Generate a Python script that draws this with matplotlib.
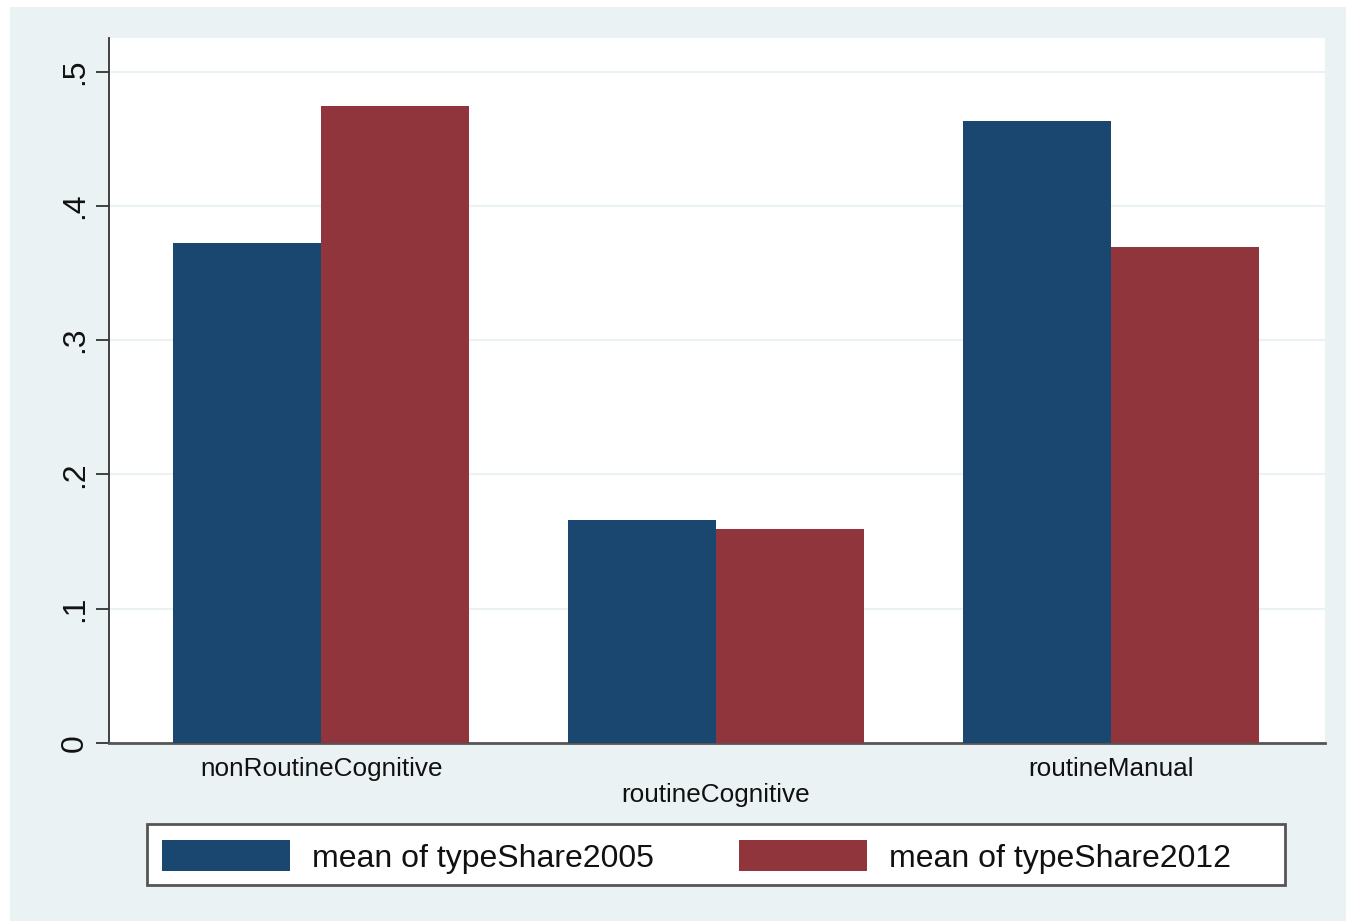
import matplotlib
matplotlib.use("Agg")
import matplotlib.pyplot as plt
from matplotlib.patches import Rectangle, Patch
import numpy as np

categories = ["nonRoutineCognitive", "routineCognitive", "routineManual"]
share2005 = [0.372, 0.166, 0.463]
share2012 = [0.474, 0.159, 0.369]
series_labels = ["mean of typeShare2005", "mean of typeShare2012"]
yticks = [0, 0.1, 0.2, 0.3, 0.4, 0.5]
yticklabels = ["0", ".1", ".2", ".3", ".4", ".5"]

BLUE = "#1a476f"
RED = "#90353b"
BG = "#eaf2f3"
GRID = "#eaf2f3"

plt.rcParams["font.family"] = ["Liberation Sans", "DejaVu Sans"]

W, H = 1346, 923
fig = plt.figure(figsize=(W / 100, H / 100), dpi=100, facecolor="white")
fig.patches.append(Rectangle((10 / W, 2 / H), 1 - 10 / W, 1 - 9 / H,
                             transform=fig.transFigure, facecolor=BG,
                             edgecolor="none", zorder=-10))

ax = fig.add_axes([109 / W, 1 - 743 / H, (1325 - 109) / W, (743 - 38) / H])
ax.set_facecolor("white")

x = np.arange(len(categories))
bw = 0.3747
ax.bar(x - bw / 2, share2005, width=bw, color=BLUE, label=series_labels[0], zorder=3)
ax.bar(x + bw / 2, share2012, width=bw, color=RED, label=series_labels[1], zorder=3)

ax.set_xlim(-0.537, 2.542)
ax.set_ylim(0, 0.525)

ax.set_yticks(yticks)
ax.set_yticklabels(yticklabels, rotation=90, va="center", fontsize=23,
                   color="#111111")
ax.tick_params(axis="y", length=9.5, width=1.3, color="#333333", pad=4)
ax.yaxis.grid(True, color=GRID, linewidth=1.5, zorder=0)

# staggered category labels
ax.set_xticks([x[0], x[2]])
ax.set_xticklabels([categories[0], categories[2]], fontsize=18.8, color="#111111")
ax.set_xticks([x[1]], minor=True)
ax.set_xticklabels([categories[1]], minor=True, fontsize=18.8, color="#111111")
ax.tick_params(axis="x", which="major", length=0, pad=10)
ax.tick_params(axis="x", which="minor", length=0, pad=29)

for s in ["top", "right"]:
    ax.spines[s].set_visible(False)
ax.spines["left"].set_color("#333333")
ax.spines["left"].set_linewidth(1.3)
ax.spines["bottom"].set_color("#555555")
ax.spines["bottom"].set_linewidth(2)

# legend box
fig.patches.append(Rectangle((147 / W, 1 - 885 / H), (1285 - 147) / W, 61 / H,
                             transform=fig.transFigure, facecolor="white",
                             edgecolor="#555555", linewidth=2, zorder=1))
handles = [Patch(facecolor=BLUE), Patch(facecolor=RED)]
leg = fig.legend(handles, series_labels, loc="center left",
                 bbox_to_anchor=(159 / W, 1 - 857 / H), ncol=2, frameon=False,
                 fontsize=23, handlelength=4.0, handleheight=1.1,
                 handletextpad=0.7, columnspacing=2.66, borderpad=0.1,
                 borderaxespad=0, labelcolor="#111111")
leg.set_zorder(5)

fig.savefig("out.png", dpi=100, facecolor="white")
